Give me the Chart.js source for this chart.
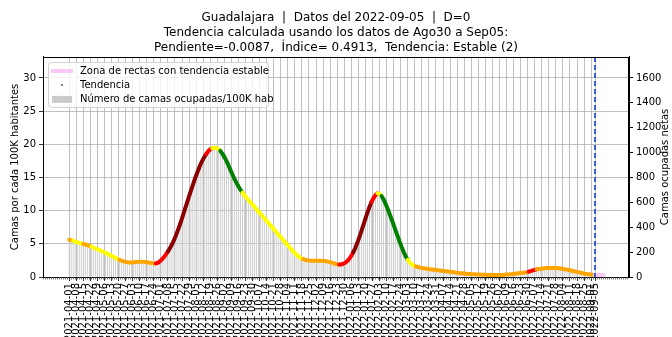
<!DOCTYPE html>
<html lang="es">
<head>
<meta charset="utf-8">
<title>Guadalajara - camas ocupadas</title>
<script src="https://cdn.jsdelivr.net/npm/chart.js@4.4.1/dist/chart.umd.min.js"></script>
<style>
  html, body { margin: 0; padding: 0; background: #fff; }
  #grafica { display: block; }
</style>
</head>
<body>
<canvas id="grafica" width="672" height="337"></canvas>
<script>
// Serie de camas ocupadas por cada 100K habitantes, un valor cada 2 días desde inicioSerie
const inicioSerie = '2021-04-01';
const pasoDias = 2;
const fechaCorte = '2022-09-05';

const camas100k = [
  5.6, 5.55, 5.45, 5.35, 5.25, 5.15, 5.05, 4.98, 4.9, 4.8,
  4.7, 4.58, 4.45, 4.32, 4.18, 4.05, 3.92, 3.78, 3.63, 3.48,
  3.33, 3.18, 3.03, 2.88, 2.72, 2.57, 2.45, 2.35, 2.27, 2.22,
  2.2, 2.2, 2.22, 2.25, 2.28, 2.3, 2.3, 2.28, 2.25, 2.2,
  2.15, 2.1, 2.05, 2.05, 2.15, 2.35, 2.65, 3.0, 3.4, 3.85,
  4.35, 4.9, 5.55, 6.3, 7.1, 7.95, 8.85, 9.8, 10.75, 11.7,
  12.65, 13.55, 14.45, 15.3, 16.1, 16.85, 17.5, 18.05, 18.55, 18.95,
  19.25, 19.42, 19.5, 19.45, 19.3, 19.0, 18.6, 18.1, 17.5, 16.85,
  16.15, 15.45, 14.8, 14.2, 13.65, 13.15, 12.7, 12.3, 11.95, 11.6,
  11.25, 10.9, 10.55, 10.2, 9.85, 9.5, 9.15, 8.8, 8.45, 8.1,
  7.75, 7.4, 7.05, 6.7, 6.35, 6.0, 5.65, 5.3, 4.95, 4.6,
  4.25, 3.9, 3.6, 3.3, 3.05, 2.85, 2.7, 2.6, 2.52, 2.48,
  2.46, 2.45, 2.45, 2.45, 2.45, 2.44, 2.42, 2.4, 2.35, 2.28,
  2.2, 2.1, 2.0, 1.92, 1.88, 1.9, 2.0, 2.15, 2.4, 2.75,
  3.2, 3.75, 4.4, 5.15, 6.0, 6.9, 7.85, 8.8, 9.7, 10.55,
  11.3, 11.9, 12.35, 12.6, 12.55, 12.2, 11.7, 11.05, 10.3, 9.5,
  8.7, 7.85, 7.0, 6.15, 5.3, 4.5, 3.75, 3.1, 2.6, 2.2,
  1.9, 1.72, 1.6, 1.5, 1.43, 1.37, 1.32, 1.27, 1.22, 1.18,
  1.14, 1.1, 1.06, 1.02, 0.98, 0.94, 0.9, 0.86, 0.82, 0.78,
  0.74, 0.7, 0.66, 0.62, 0.58, 0.55, 0.52, 0.49, 0.46, 0.44,
  0.42, 0.4, 0.38, 0.37, 0.36, 0.35, 0.34, 0.33, 0.32, 0.31,
  0.3, 0.3, 0.3, 0.3, 0.31, 0.32, 0.34, 0.36, 0.38, 0.41,
  0.44, 0.48, 0.52, 0.56, 0.6, 0.64, 0.68, 0.73, 0.8, 0.9,
  1.0, 1.08, 1.15, 1.2, 1.25, 1.29, 1.32, 1.34, 1.36, 1.37,
  1.37, 1.36, 1.34, 1.31, 1.27, 1.22, 1.17, 1.11, 1.05, 0.98,
  0.91, 0.84, 0.77, 0.7, 0.63, 0.56, 0.5, 0.45, 0.41, 0.37,
  0.34, 0.32
];

// Tramos de la tendencia: día (desde inicioSerie) en que empieza cada color
const tramosTendencia = [
  [0, 'naranja'], [4, 'amarillo'], [14, 'naranja'], [22, 'amarillo'],
  [50, 'naranja'], [86, 'rojo'], [98, 'rojoOscuro'], [136, 'rojo'],
  [142, 'amarillo'], [150, 'verde'], [172, 'amarillo'], [232, 'naranja'],
  [268, 'rojo'], [282, 'rojoOscuro'], [300, 'rojo'], [306, 'amarillo'],
  [310, 'verde'], [336, 'amarillo'], [344, 'naranja'], [456, 'rojo'],
  [464, 'naranja']
];

const coloresTendencia = {
  amarillo: '#ffff00',
  naranja: '#ffa500',
  rojo: '#ff0000',
  rojoOscuro: '#8b0000',
  verde: '#008000'
};

// Rectas con tendencia estable al final de la serie (día, camas/100K)
const zonaEstableDias = [520, 532];
const zonaEstableValores = [0.36, 0.26];

const etiquetasX = [
  '2021-04-01', '2021-04-08', '2021-04-15', '2021-04-22', '2021-04-29',
  '2021-05-06', '2021-05-13', '2021-05-20', '2021-05-27', '2021-06-03',
  '2021-06-10', '2021-06-17', '2021-06-24', '2021-07-01', '2021-07-08',
  '2021-07-15', '2021-07-22', '2021-07-29', '2021-08-05', '2021-08-12',
  '2021-08-19', '2021-08-26', '2021-09-02', '2021-09-09', '2021-09-16',
  '2021-09-23', '2021-09-30', '2021-10-07', '2021-10-14', '2021-10-21',
  '2021-10-28', '2021-11-04', '2021-11-11', '2021-11-18', '2021-11-25',
  '2021-12-02', '2021-12-09', '2021-12-16', '2021-12-23', '2021-12-30',
  '2022-01-06', '2022-01-13', '2022-01-20', '2022-01-27', '2022-02-03',
  '2022-02-10', '2022-02-17', '2022-02-24', '2022-03-03', '2022-03-10',
  '2022-03-17', '2022-03-24', '2022-03-31', '2022-04-07', '2022-04-14',
  '2022-04-21', '2022-04-28', '2022-05-05', '2022-05-12', '2022-05-19',
  '2022-05-26', '2022-06-02', '2022-06-09', '2022-06-16', '2022-06-23',
  '2022-06-30', '2022-07-07', '2022-07-14', '2022-07-21', '2022-07-28',
  '2022-08-04', '2022-08-11', '2022-08-18', '2022-08-25', '2022-09-01',
  '2022-09-05'
];

const ticksIzq = [0, 5, 10, 15, 20, 25, 30];
const ticksDer = [0, 200, 400, 600, 800, 1000, 1200, 1400, 1600];
const limiteIzq = 33.17;
const limiteDer = 1769;
const rangoDias = [-26, 555.6];

const titulo = [
  'Guadalajara  |  Datos del 2022-09-05  |  D=0',
  'Tendencia calculada usando los datos de Ago30 a Sep05:',
  'Pendiente=-0.0087,  Índice= 0.4913,  Tendencia: Estable (2)'
];

const DIA_MS = 86400000;
function diasDesde(fecha) {
  return Math.round((Date.parse(fecha) - Date.parse(inicioSerie)) / DIA_MS);
}

function colorEnDia(dia) {
  let nombre = tramosTendencia[0][1];
  for (const [desde, c] of tramosTendencia) {
    if (dia >= desde) nombre = c;
  }
  return coloresTendencia[nombre];
}

const puntos = camas100k.map((v, i) => ({ x: i * pasoDias, y: v }));
const zonaEstable = zonaEstableDias.map((d, i) => ({ x: d, y: zonaEstableValores[i] }));

Chart.defaults.font.family = "'DejaVu Sans', sans-serif";
Chart.defaults.font.size = 10;
Chart.defaults.color = '#000';

// Marco, línea de corte, marcas menores, título derecho y leyenda
const extras = {
  id: 'extras',
  afterDatasetsDraw(chart) {
    const { ctx, chartArea: a, scales } = chart;
    const xc = Math.round(scales.x.getPixelForValue(diasDesde(fechaCorte)));
    ctx.save();
    ctx.strokeStyle = '#3a5fe0';
    ctx.lineWidth = 2;
    ctx.setLineDash([5, 3]);
    ctx.beginPath();
    ctx.moveTo(xc, a.top);
    ctx.lineTo(xc, a.bottom);
    ctx.stroke();
    ctx.restore();
  },
  afterDraw(chart) {
    const { ctx, chartArea: a, scales } = chart;
    ctx.save();
    ctx.strokeStyle = '#000';
    ctx.lineWidth = 1;
    ctx.strokeRect(Math.round(a.left) + 0.5, Math.round(a.top) + 0.5,
      Math.round(a.right - a.left) - 1, Math.round(a.bottom - a.top));

    // marcas menores del eje x, una cada dos días
    ctx.strokeStyle = '#444';
    ctx.lineWidth = 0.7;
    ctx.beginPath();
    for (let d = Math.ceil(rangoDias[0]); d <= rangoDias[1]; d += 2) {
      const px = Math.round(scales.x.getPixelForValue(d)) + 0.5;
      ctx.moveTo(px, a.bottom);
      ctx.lineTo(px, a.bottom + 2.5);
    }
    ctx.stroke();

    // título del eje derecho, leído de abajo hacia arriba
    ctx.fillStyle = '#000';
    ctx.font = "10px 'DejaVu Sans', sans-serif";
    ctx.textAlign = 'center';
    ctx.textBaseline = 'middle';
    ctx.translate(chart.width - 7, (a.top + a.bottom) / 2);
    ctx.rotate(-Math.PI / 2);
    ctx.fillText('Camas ocupadas netas', 0, 0);
    ctx.restore();

    // leyenda
    const lx = a.left + 5, ly = a.top + 5, lw = 220, lh = 45;
    ctx.save();
    ctx.fillStyle = 'rgba(255,255,255,0.8)';
    ctx.strokeStyle = '#d0d0d0';
    ctx.lineWidth = 1;
    ctx.beginPath();
    ctx.roundRect(lx + 0.5, ly + 0.5, lw, lh, 3);
    ctx.fill();
    ctx.stroke();

    ctx.strokeStyle = '#f9c8f5';
    ctx.lineWidth = 4;
    ctx.beginPath();
    ctx.moveTo(lx + 3, ly + 9);
    ctx.lineTo(lx + 25, ly + 9);
    ctx.stroke();

    ctx.fillStyle = '#555';
    ctx.beginPath();
    ctx.arc(lx + 14, ly + 23, 1, 0, Math.PI * 2);
    ctx.fill();

    ctx.fillStyle = '#cbcbcb';
    ctx.fillRect(lx + 4, ly + 34, 20, 7);

    ctx.fillStyle = '#000';
    ctx.font = "10px 'DejaVu Sans', sans-serif";
    ctx.textAlign = 'left';
    ctx.textBaseline = 'middle';
    ctx.fillText('Zona de rectas con tendencia estable', lx + 32, ly + 9);
    ctx.fillText('Tendencia', lx + 32, ly + 23);
    ctx.fillText('Número de camas ocupadas/100K hab', lx + 32, ly + 37);
    ctx.restore();
  }
};

const ctx = document.getElementById('grafica').getContext('2d');

new Chart(ctx, {
  data: {
    datasets: [
      {
        type: 'line',
        label: 'Zona de rectas con tendencia estable',
        data: zonaEstable,
        yAxisID: 'y',
        borderColor: '#f9c8f5',
        borderWidth: 4,
        pointRadius: 0,
        order: 0
      },
      {
        type: 'line',
        label: 'Tendencia',
        data: puntos,
        yAxisID: 'y',
        borderColor: coloresTendencia.naranja,
        borderWidth: 4,
        borderCapStyle: 'round',
        borderJoinStyle: 'round',
        pointRadius: 0,
        segment: { borderColor: c => colorEnDia(c.p0.parsed.x) },
        order: 1
      },
      {
        type: 'bar',
        label: 'Número de camas ocupadas/100K hab',
        data: puntos,
        yAxisID: 'y',
        backgroundColor: '#cfcfcf',
        barThickness: 1,
        inflateAmount: 0,
        order: 3
      }
    ]
  },
  options: {
    responsive: false,
    animation: false,
    devicePixelRatio: 1,
    layout: { padding: 0 },
    plugins: {
      legend: { display: false },
      tooltip: { enabled: false },
      title: {
        display: true,
        text: titulo,
        color: '#000',
        font: { size: 12, weight: 'normal', lineHeight: 1.22 },
        padding: { top: 11, bottom: 2 }
      }
    },
    scales: {
      x: {
        type: 'linear',
        offset: false,
        min: rangoDias[0],
        max: rangoDias[1],
        afterBuildTicks: s => { s.ticks = etiquetasX.map(e => ({ value: diasDesde(e) })); },
        afterFit: s => { s.height = 60; },
        ticks: {
          autoSkip: false,
          minRotation: 90,
          maxRotation: 90,
          padding: 2,
          callback: (v, i) => etiquetasX[i]
        },
        grid: { offset: false, color: '#b0b0b0', lineWidth: 0.8, tickColor: '#000', tickLength: 4 },
        border: { color: '#000' }
      },
      y: {
        position: 'left',
        min: 0,
        max: limiteIzq,
        afterBuildTicks: s => { s.ticks = ticksIzq.map(v => ({ value: v })); },
        afterFit: s => { s.width = 43; },
        ticks: { padding: 3 },
        title: {
          display: true,
          text: 'Camas por cada 100K habitantes',
          color: '#000',
          font: { size: 10 },
          padding: { top: 9, bottom: 0 }
        },
        grid: { color: '#b0b0b0', lineWidth: 0.8, tickColor: '#000', tickLength: 4 },
        border: { color: '#000' }
      },
      y1: {
        position: 'right',
        min: 0,
        max: limiteDer,
        afterBuildTicks: s => { s.ticks = ticksDer.map(v => ({ value: v })); },
        afterFit: s => { s.width = 43; },
        ticks: { padding: 3 },
        grid: { drawOnChartArea: false, tickColor: '#000', tickLength: 4 },
        border: { color: '#000' }
      }
    }
  },
  plugins: [extras]
});
</script>
</body>
</html>
